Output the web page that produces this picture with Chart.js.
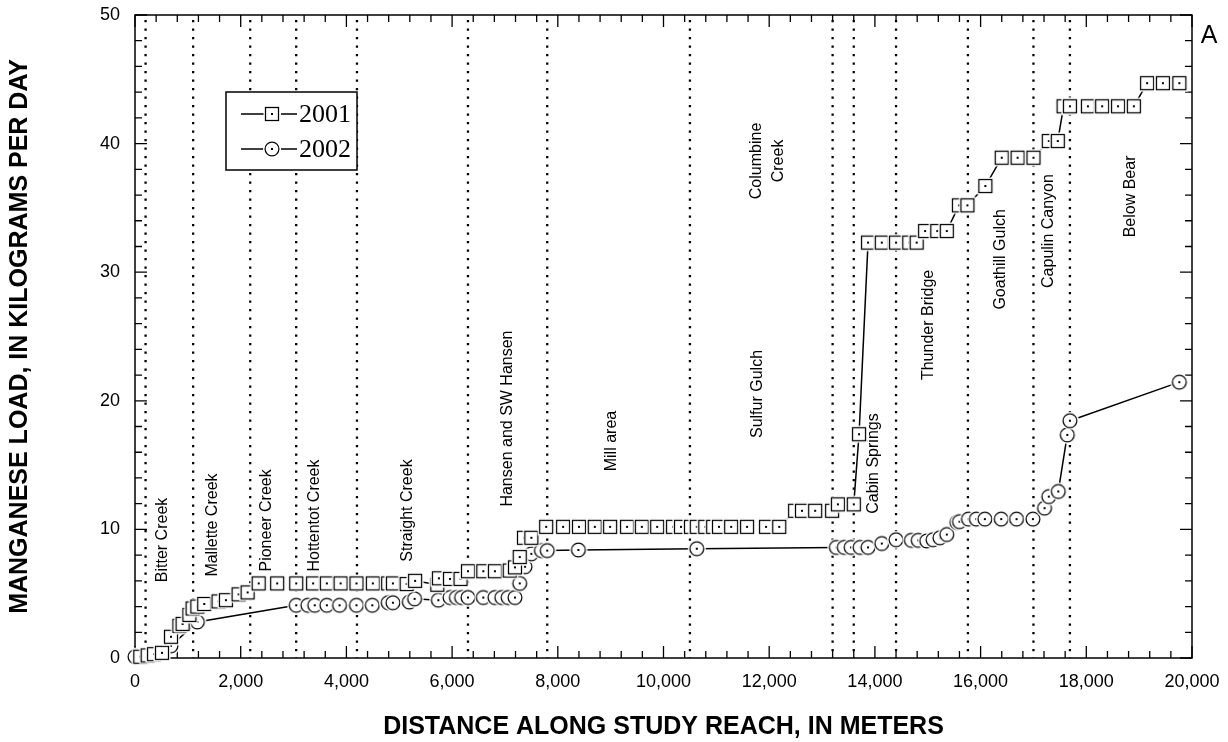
<!DOCTYPE html>
<html>
<head>
<meta charset="utf-8">
<script src="https://cdn.jsdelivr.net/npm/chart.js@4.4.1/dist/chart.umd.min.js"></script>
<style>
  html, body { margin: 0; padding: 0; background: #fff; }
  #wrap { width: 1228px; height: 742px; }
</style>
</head>
<body>
<div id="wrap"><canvas id="chart" width="1228" height="742"></canvas></div>
<script>
// 2001 synoptic: distance along reach (m) and manganese load (kg/day)
const dist2001 = [100, 240, 360, 510, 680, 840, 900, 1030, 1090, 1180, 1310,
  1580, 1720, 1960, 2130, 2340, 2690, 3050, 3370, 3630, 3890, 4190, 4500, 4790, 4880,
  5140, 5300, 5720, 5750, 5960, 6160, 6300, 6590, 6810, 7090, 7190, 7280, 7360, 7500,
  7780, 8100, 8400, 8700, 8990, 9310, 9590, 9880, 10180, 10330, 10520, 10630, 10790,
  10940, 11050, 11280, 11580, 11940, 12190, 12490, 12620, 12870, 13190, 13300, 13600,
  13700, 13870, 14130, 14400, 14650, 14790, 14950, 15180, 15360, 15590, 15750, 16090,
  16400, 16700, 17000, 17290, 17460, 17570, 17690, 18030, 18300, 18600, 18900,
  19150, 19450, 19760];
const load2001 = [0.1, 0.2, 0.3, 0.4, 1.65, 2.5, 2.65, 3.35, 3.85, 4.0, 4.2,
  4.4, 4.5, 4.95, 5.1, 5.8, 5.8, 5.8, 5.8, 5.8, 5.8, 5.8, 5.8, 5.8, 5.8,
  5.75, 6.0, 5.7, 6.2, 6.15, 6.15, 6.75, 6.75, 6.75, 6.8, 7.05, 7.85, 9.35, 9.35,
  10.2, 10.2, 10.2, 10.2, 10.2, 10.2, 10.2, 10.2, 10.2, 10.2, 10.2, 10.2, 10.2,
  10.2, 10.2, 10.2, 10.2, 10.2, 10.2, 11.45, 11.45, 11.45, 11.45, 11.95, 11.95,
  17.4, 32.3, 32.3, 32.3, 32.3, 32.3, 33.2, 33.2, 33.2, 35.2, 35.2, 36.7,
  38.9, 38.9, 38.9, 40.2, 40.2, 42.9, 42.9, 42.9, 42.9, 42.9, 42.9,
  44.7, 44.7, 44.7];

// 2002 synoptic
const dist2002 = [0, 680, 1180, 3050, 3270, 3400, 3630, 3870, 4190, 4490,
  4790, 4880, 5190, 5290, 5740, 5960, 6080, 6180, 6300, 6590, 6810, 6940, 7060, 7190,
  7280, 7380, 7500, 7690, 7800, 8390, 10630, 13270, 13420, 13550, 13720, 13870,
  14130, 14400, 14690, 14820, 14980, 15100, 15230, 15360, 15550, 15600, 15770, 15920,
  16080, 16390, 16680, 16990, 17210, 17290, 17470, 17640, 17690, 19760];
const load2002 = [0.1, 0.95, 2.8, 4.1, 4.1, 4.1, 4.1, 4.1, 4.1, 4.1,
  4.3, 4.3, 4.35, 4.6, 4.5, 4.7, 4.7, 4.7, 4.7, 4.7, 4.7, 4.7, 4.7, 4.7,
  5.8, 7.1, 8.1, 8.35, 8.35, 8.4, 8.5, 8.6, 8.6, 8.6, 8.6, 8.6,
  8.9, 9.2, 9.15, 9.15, 9.1, 9.2, 9.35, 9.6, 10.55, 10.6, 10.8, 10.8,
  10.8, 10.8, 10.8, 10.8, 11.65, 12.55, 12.95, 17.35, 18.45, 21.45];

// tributary / reach boundaries (m)
const siteBoundaries = [200, 1100, 2180, 3050, 4200, 6300, 7800, 10500, 13200, 13600, 14400, 15760, 17000, 17690];

const siteNames = ['Bitter Creek', 'Mallette Creek', 'Pioneer Creek', 'Hottentot Creek', 'Straight Creek',
  'Hansen and SW Hansen', 'Mill area', 'Sulfur Gulch', 'Columbine\nCreek', 'Cabin Springs',
  'Thunder Bridge', 'Goathill Gulch', 'Capulin Canyon', 'Below Bear'];
// where each name sits, in axis units (m, kg/day)
const nameAtX = [521, 1468, 2490, 3400, 5161, 7055, 9025, 11771, 11979, 13968, 15009, 16373, 17282, 18835];
const nameAtY = [9.18, 10.34, 10.7, 11.08, 11.47, 18.62, 16.87, 20.53, 38.65, 15.12, 25.9, 31.0, 33.2, 35.89];

const xTicks = { min: 0, max: 20000, step: 2000, minor: 400 };
const yTicks = { min: 0, max: 50, step: 10, minor: 2 };

const SANS = "'Liberation Sans', Arial, sans-serif";

// marker images: white fill, thin outline, dot in the middle
const makeMarker = (kind) => {
  const size = kind === 'square' ? 14 : 15;
  const halo = 1.5;
  const c = document.createElement('canvas');
  c.width = c.height = 22;
  const g = c.getContext('2d');
  const m = 11;
  g.fillStyle = '#fff';
  g.strokeStyle = '#000';
  g.lineWidth = 1.25;
  if (kind === 'square') {
    g.fillRect(m - size / 2 - halo, m - size / 2 - halo, size + 2 * halo, size + 2 * halo);
    g.strokeRect(m - size / 2 + 0.5, m - size / 2 + 0.5, size - 1, size - 1);
  } else {
    g.beginPath(); g.arc(m, m, size / 2 + halo, 0, Math.PI * 2); g.fill();
    g.beginPath(); g.arc(m, m, size / 2 - 0.6, 0, Math.PI * 2); g.stroke();
  }
  g.fillStyle = '#000';
  g.fillRect(m - 1, m - 1, 2, 2);
  return c;
};
const squareImg = makeMarker('square');
const circleImg = makeMarker('circle');

// old plotting package drops connecting segments between crowded markers
const hideShort = (ctx) => {
  const dx = ctx.p1.x - ctx.p0.x, dy = ctx.p1.y - ctx.p0.y;
  return Math.hypot(dx, dy) < 22 ? 'rgba(0,0,0,0)' : '#000';
};

const decor = {
  id: 'decor',
  beforeDatasetsDraw(chart) {
    const { ctx, chartArea: a, scales: { x, y } } = chart;
    ctx.save();

    // dotted boundaries
    ctx.strokeStyle = '#000';
    ctx.lineWidth = 2.3;
    ctx.setLineDash([2.3, 6.2]);
    siteBoundaries.forEach(d => {
      const px = x.getPixelForValue(d);
      ctx.beginPath();
      ctx.moveTo(px, a.top + 5);
      ctx.lineTo(px, a.bottom);
      ctx.stroke();
    });
    ctx.setLineDash([]);

    // site names, rotated
    ctx.fillStyle = '#000';
    ctx.font = '16px ' + SANS;
    ctx.textAlign = 'center';
    ctx.textBaseline = 'middle';
    siteNames.forEach((name, i) => {
      const lines = name.split('\n');
      ctx.save();
      ctx.translate(x.getPixelForValue(nameAtX[i]), y.getPixelForValue(nameAtY[i]));
      ctx.rotate(-Math.PI / 2);
      lines.forEach((ln, j) => ctx.fillText(ln, 0, (j - (lines.length - 1) / 2) * 22));
      ctx.restore();
    });

    // frame
    ctx.lineWidth = 1.5;
    ctx.strokeRect(a.left, a.top, a.right - a.left, a.bottom - a.top);

    // inside ticks, all four sides
    ctx.lineWidth = 1.3;
    ctx.beginPath();
    for (let v = xTicks.min; v <= xTicks.max; v += xTicks.minor) {
      const px = x.getPixelForValue(v);
      const len = v % xTicks.step === 0 ? 12 : 7;
      ctx.moveTo(px, a.bottom); ctx.lineTo(px, a.bottom - len);
      ctx.moveTo(px, a.top); ctx.lineTo(px, a.top + len);
    }
    for (let v = yTicks.min; v <= yTicks.max; v += yTicks.minor) {
      const py = y.getPixelForValue(v);
      const len = v % yTicks.step === 0 ? 12 : 7;
      ctx.moveTo(a.left, py); ctx.lineTo(a.left + len, py);
      ctx.moveTo(a.right, py); ctx.lineTo(a.right - len, py);
    }
    ctx.stroke();
    ctx.restore();
  },
  afterDraw(chart) {
    const { ctx } = chart;
    ctx.save();
    // legend box
    ctx.fillStyle = '#fff';
    ctx.fillRect(226, 92, 131, 78);
    ctx.strokeStyle = '#000';
    ctx.lineWidth = 1.5;
    ctx.strokeRect(226, 92, 131, 78);
    chart.data.datasets.forEach((ds, i) => {
      const ry = 114 + i * 35;
      ctx.lineWidth = 1.5;
      ctx.beginPath();
      ctx.moveTo(241, ry); ctx.lineTo(264, ry);
      ctx.moveTo(281, ry); ctx.lineTo(297, ry);
      ctx.stroke();
      const img = ds.pointStyle;
      ctx.drawImage(img, 272 - img.width / 2, ry - img.height / 2);
      ctx.fillStyle = '#000';
      ctx.font = "26px 'Liberation Serif', 'Times New Roman', serif";
      ctx.textAlign = 'left';
      ctx.textBaseline = 'middle';
      ctx.fillText(ds.label, 299, ry + 1);
    });
    // panel letter
    ctx.font = '25px ' + SANS;
    ctx.textAlign = 'center';
    ctx.fillText('A', 1209, 36);
    ctx.restore();
  }
};

new Chart(document.getElementById('chart'), {
  type: 'line',
  data: {
    datasets: [
      {
        label: '2001',
        data: dist2001.map((d, i) => ({ x: d, y: load2001[i] })),
        borderColor: '#000',
        borderWidth: 1.5,
        pointStyle: squareImg,
        pointRadius: 7,
        pointHoverRadius: 7,
        tension: 0,
        clip: false,
        segment: { borderColor: hideShort }
      },
      {
        label: '2002',
        data: dist2002.map((d, i) => ({ x: d, y: load2002[i] })),
        borderColor: '#000',
        borderWidth: 1.5,
        pointStyle: circleImg,
        pointRadius: 7,
        pointHoverRadius: 7,
        tension: 0,
        clip: false,
        segment: { borderColor: hideShort }
      }
    ]
  },
  options: {
    responsive: false,
    animation: false,
    events: [],
    layout: { padding: { top: 15, right: 36, left: 0, bottom: 0 } },
    plugins: { legend: { display: false }, tooltip: { enabled: false } },
    scales: {
      x: {
        type: 'linear',
        min: xTicks.min,
        max: xTicks.max,
        grid: { display: false, drawTicks: false },
        border: { display: false },
        ticks: {
          stepSize: xTicks.step,
          padding: 13,
          color: '#000',
          font: { family: SANS, size: 18 },
          maxRotation: 0,
          callback: v => v.toLocaleString('en-US')
        },
        title: {
          display: true,
          text: 'DISTANCE ALONG STUDY REACH, IN METERS',
          color: '#000',
          font: { family: SANS, size: 25, weight: 'bold' },
          padding: { top: 0, bottom: 0 }
        },
        afterFit: s => { s.height = 84; s.paddingLeft = 0; s.paddingRight = 0; }
      },
      y: {
        min: yTicks.min,
        max: yTicks.max,
        grid: { display: false, drawTicks: false },
        border: { display: false },
        ticks: {
          stepSize: yTicks.step,
          padding: 15,
          color: '#000',
          font: { family: SANS, size: 18 }
        },
        title: {
          display: true,
          text: 'MANGANESE LOAD, IN KILOGRAMS PER DAY',
          color: '#000',
          font: { family: SANS, size: 25, weight: 'bold' },
          padding: { top: 5, bottom: 0 }
        },
        afterFit: s => { s.width = 135; s.paddingTop = 0; s.paddingBottom = 0; }
      }
    }
  },
  plugins: [decor]
});
</script>
</body>
</html>
